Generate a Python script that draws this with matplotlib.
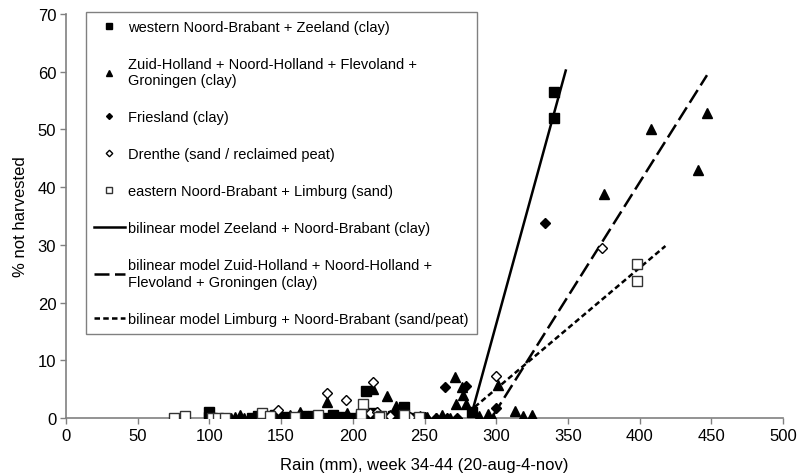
import matplotlib
matplotlib.use('Agg')
import matplotlib.pyplot as plt

plt.rcParams['font.family'] = ['Liberation Sans', 'DejaVu Sans']

# ---------------- data ----------------
wnb_x = [340, 340, 283, 209, 236, 100, 100, 130, 134, 140, 146, 152, 158, 165, 172,
         180, 186, 193, 200, 206, 214, 221, 228, 240, 212]
wnb_y = [56.5, 52.0, 1.0, 4.7, 1.9, 1.0, 0.2, 0.0, 0.3, 0.0, 0.5, 0.2, 0.0, 0.3, 0.4,
         0.0, 0.5, 0.2, 0.0, 0.3, 0.8, 0.0, 0.3, 0.0, 0.4]

zh_x = [447, 408, 375, 441, 271, 276, 277, 272, 279, 301, 294, 313, 319, 325, 182,
        214, 224, 230, 115, 118, 121, 124, 137, 147, 156, 163, 170, 178, 188, 196,
        204, 217, 226, 241, 247, 252, 258, 262, 268, 288, 298]
zh_y = [52.9, 50.0, 38.8, 42.9, 7.1, 5.4, 4.0, 2.4, 2.4, 5.7, 0.7, 1.2, 0.3, 0.5, 2.8,
        5.0, 3.8, 2.0, 0.0, 0.2, 0.5, 0.0, 0.3, 0.0, 0.5, 1.0, 0.2, 0.0, 0.4, 0.9,
        0.0, 0.3, 0.6, 0.0, 0.4, 0.2, 0.0, 0.5, 0.0, 0.3, 0.0]

fr_x = [334, 264, 279, 300, 238, 245, 250, 258, 266, 273, 128, 160, 190, 230]
fr_y = [33.8, 5.3, 5.5, 1.8, 0.0, 0.0, 0.1, 0.0, 0.0, 0.0, 0.0, 0.0, 0.0, 0.0]

dr_x = [374, 300, 214, 182, 195, 148, 212, 217, 226, 240]
dr_y = [29.4, 7.3, 6.2, 4.4, 3.2, 1.3, 0.8, 1.0, 0.4, 0.2]

enb_x = [398, 398, 75, 83, 102, 106, 111, 137, 142, 160, 176, 207, 206, 220, 236, 246, 218]
enb_y = [26.6, 23.8, 0.0, 0.3, 0.0, 0.0, 0.0, 0.8, 0.3, 0.2, 0.5, 2.5, 0.7, 0.3, 0.6, 0.2, 0.2]

model_zb_x = [283.5, 348.5]
model_zb_y = [1.3, 60.2]
model_zh_x = [298, 447]
model_zh_y = [0.5, 59.4]
model_lb_x = [285, 418]
model_lb_y = [1.9, 29.8]

labels = [
    "western Noord-Brabant + Zeeland (clay)",
    "Zuid-Holland + Noord-Holland + Flevoland +\nGroningen (clay)",
    "Friesland (clay)",
    "Drenthe (sand / reclaimed peat)",
    "eastern Noord-Brabant + Limburg (sand)",
    "bilinear model Zeeland + Noord-Brabant (clay)",
    "bilinear model Zuid-Holland + Noord-Holland +\nFlevoland + Groningen (clay)",
    "bilinear model Limburg + Noord-Brabant (sand/peat)",
]

x_ticks = [0, 50, 100, 150, 200, 250, 300, 350, 400, 450, 500]
y_ticks = [0, 10, 20, 30, 40, 50, 60, 70]

# ---------------- figure ----------------
fig = plt.figure(figsize=(7.97, 4.77), dpi=100)
ax = fig.add_axes([66 / 797, 1 - 419 / 477, (783 - 66) / 797, (419 - 15) / 477])

h1, = ax.plot(wnb_x, wnb_y, 's', color='black', ms=7, mec='black', ls='none', zorder=3)
h2, = ax.plot(zh_x, zh_y, '^', color='black', ms=6.5, mec='black', ls='none', zorder=3)
h3, = ax.plot(fr_x, fr_y, 'D', color='black', ms=5, mec='black', ls='none', zorder=3)
h4, = ax.plot(dr_x, dr_y, 'D', mfc='white', mec='black', mew=1.0, ms=5.5, ls='none', zorder=4)
h5, = ax.plot(enb_x, enb_y, 's', mfc='white', mec='#333333', mew=1.0, ms=7, ls='none', zorder=4)

l1, = ax.plot(model_zb_x, model_zb_y, '-', color='black', lw=1.8, zorder=2)
l2, = ax.plot(model_zh_x, model_zh_y, color='black', lw=1.8, ls=(0, (6.0, 2.2)), zorder=2)
l3, = ax.plot(model_lb_x, model_lb_y, color='black', lw=1.8, ls=(0, (2.2, 1.3)), zorder=2)

ax.set_xlim(0, 500)
ax.set_ylim(0, 70)
ax.set_xticks(x_ticks)
ax.set_yticks(y_ticks)
ax.tick_params(axis='both', direction='out', length=4, width=1, color='#808080',
               labelsize=12, pad=3)
for s in ['top', 'right']:
    ax.spines[s].set_visible(False)
for s in ['left', 'bottom']:
    ax.spines[s].set_color('#808080')
    ax.spines[s].set_linewidth(1.2)

ax.set_xlabel("Rain (mm), week 34-44 (20-aug-4-nov)", fontsize=12, labelpad=10)
ax.set_ylabel("% not harvested", fontsize=12, labelpad=7)

leg = ax.legend([h1, h2, h3, h4, h5, l1, l2, l3], labels,
                loc='upper left', bbox_to_anchor=(86 / 797, 1 - 13 / 477),
                bbox_transform=fig.transFigure, borderaxespad=0,
                fontsize=10.5, frameon=True, fancybox=False, framealpha=1,
                edgecolor='#808080', markerscale=0.6, handlelength=2.1,
                handletextpad=0.25, labelspacing=1.58, borderpad=0.55)
leg.get_frame().set_linewidth(1.0)

fig.savefig('out.png', dpi=100)
